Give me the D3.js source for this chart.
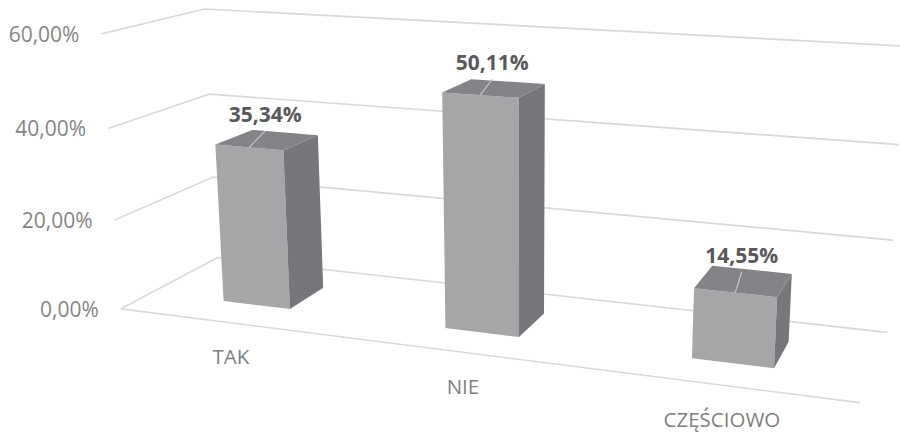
<!DOCTYPE html>
<html>
<head>
<meta charset="utf-8">
<script src="https://cdn.jsdelivr.net/npm/d3@7"></script>
<style>
  html, body { margin: 0; padding: 0; background: #ffffff; }
  svg { display: block; }
  text { font-family: "Open Sans", "Noto Sans", sans-serif; }
</style>
</head>
<body>
<svg id="chart" width="900" height="435"></svg>
<script>
// ---- data ----
const categories = ["TAK", "NIE", "CZĘŚCIOWO"];
const values = [0.3534, 0.5011, 0.1455];
const tickValues = [0, 0.2, 0.4, 0.6];

// ---- formatting (Polish locale: decimal comma) ----
const pl = d3.formatLocale({ decimal: ",", thousands: "\u00a0", grouping: [3], currency: ["", "\u00a0zł"] });
const fmt = pl.format(".2%");

// ---- scales (world space of the 3D box) ----
const xBand = d3.scaleBand().domain(categories).range([0, 1]).paddingInner(0.69).paddingOuter(0.345);
const yScale = d3.scaleLinear().domain([0, 0.6]).range([0, 1]);
const barDepth = { front: 0.30, back: 0.69 };

// ---- perspective camera, calibrated on the chart frame ----
// world: x = floor width 0..1, y = value axis 0..1, z = depth 0 (front) .. 1 (back wall)
const calib = [
  [[0, 0, 0], [122, 308]], [[0, 1/3, 0], [114, 221]], [[0, 2/3, 0], [108, 128]], [[0, 1, 0], [101, 34]],
  [[0, 0, 1], [217, 258]], [[0, 1/3, 1], [214, 177]], [[0, 2/3, 1], [208, 94]], [[0, 1, 1], [206, 9]],
  [[1, 0, 0], [860, 403]],
  [[1, 0, 1], [887, 332]], [[1, 1/3, 1], [893, 240]], [[1, 2/3, 1], [899, 145]], [[1, 1, 1], [905, 46]]
];

function fitCamera(pairs) {
  const N = 11;
  const M = Array.from({ length: N }, () => new Array(N + 1).fill(0));
  for (const [[X, Y, Z], [u, v]] of pairs) {
    const r1 = [X, Y, Z, 1, 0, 0, 0, 0, -u * X, -u * Y, -u * Z];
    const r2 = [0, 0, 0, 0, X, Y, Z, 1, -v * X, -v * Y, -v * Z];
    for (const [r, b] of [[r1, u], [r2, v]]) {
      for (let i = 0; i < N; i++) {
        for (let j = 0; j < N; j++) M[i][j] += r[i] * r[j];
        M[i][N] += r[i] * b;
      }
    }
  }
  for (let c = 0; c < N; c++) {
    let p = c;
    for (let r = c + 1; r < N; r++) if (Math.abs(M[r][c]) > Math.abs(M[p][c])) p = r;
    [M[c], M[p]] = [M[p], M[c]];
    for (let r = 0; r < N; r++) {
      if (r === c) continue;
      const f = M[r][c] / M[c][c];
      for (let k = c; k <= N; k++) M[r][k] -= f * M[c][k];
    }
  }
  return M.map((row, i) => row[N] / row[i]);
}
const P = fitCamera(calib);
function proj(x, y, z) {
  const w = P[8] * x + P[9] * y + P[10] * z + 1;
  return [(P[0] * x + P[1] * y + P[2] * z + P[3]) / w, (P[4] * x + P[5] * y + P[6] * z + P[7]) / w];
}

const svg = d3.select("#chart");
const line = d3.line();
const poly = pts => line(pts) + "Z";

// ---- gridlines: left wall + back wall, and floor front edge ----
const grid = svg.append("g").attr("fill", "none").attr("stroke", "#d9d9d9").attr("stroke-width", 1.7);
tickValues.forEach(t => {
  const y = yScale(t);
  grid.append("path").attr("d", line([proj(0, y, 0), proj(0, y, 1), proj(1, y, 1)]));
});
grid.append("path").attr("d", line([proj(0, 0, 0), proj(1, 0, 0)]));

// ---- tick labels ----
svg.append("g").selectAll("text").data(tickValues).join("text")
  .attr("x", t => proj(0, yScale(t), 0)[0] - 22)
  .attr("y", t => proj(0, yScale(t), 0)[1] + 8)
  .attr("text-anchor", "end")
  .attr("font-size", 21)
  .attr("fill", "#858585")
  .text(t => fmt(t));

// ---- bars ----
const bars = svg.append("g");
categories.forEach((c, i) => {
  const x0 = xBand(c), x1 = x0 + xBand.bandwidth();
  const h = yScale(values[i]);
  const z0 = barDepth.front, z1 = barDepth.back;
  const g = bars.append("g");
  g.append("path").attr("fill", "#a5a6a8")
    .attr("d", poly([proj(x0, 0, z0), proj(x1, 0, z0), proj(x1, h, z0), proj(x0, h, z0)]));
  g.append("path").attr("fill", "#76777b")
    .attr("d", poly([proj(x1, 0, z0), proj(x1, 0, z1), proj(x1, h, z1), proj(x1, h, z0)]));
  g.append("path").attr("fill", "#838487")
    .attr("d", poly([proj(x0, h, z0), proj(x1, h, z0), proj(x1, h, z1), proj(x0, h, z1)]));

  const xc = (x0 + x1) / 2, zc = (z0 + z1) / 2;
  const top = proj(xc, h, zc);
  const lx = top[0] - 2, ly = top[1] - 18;
  const front = proj(xc, h, z0);
  g.append("path").attr("fill", "none").attr("stroke", "#c4c4c4").attr("stroke-width", 1.2)
    .attr("d", line([front, [lx, ly + 9]]));
  g.append("text")
    .attr("x", lx).attr("y", ly)
    .attr("text-anchor", "middle")
    .attr("font-size", 21).attr("font-weight", "bold")
    .attr("fill", "#595959")
    .text(fmt(values[i]));
});

// ---- category labels ----
svg.append("g").selectAll("text").data(categories).join("text")
  .attr("x", c => proj(xBand(c) + xBand.bandwidth() / 2, 0, 0)[0] + 3)
  .attr("y", c => proj(xBand(c) + xBand.bandwidth() / 2, 0, 0)[1] + 42)
  .attr("text-anchor", "middle")
  .attr("font-size", 20.5)
  .attr("fill", "#7f7f7f")
  .text(c => c);
</script>
</body>
</html>
